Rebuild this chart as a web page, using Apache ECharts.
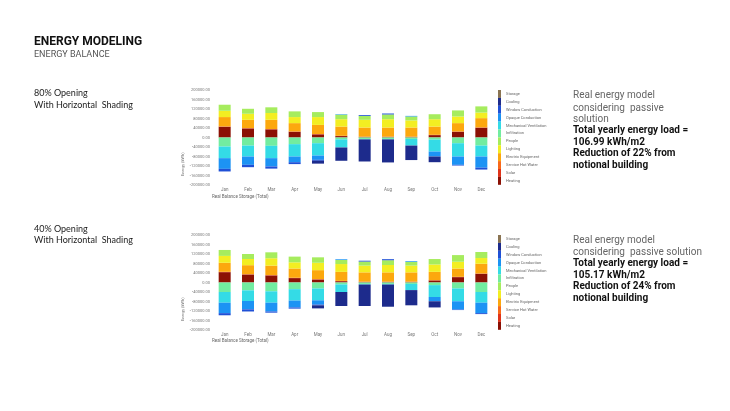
<!DOCTYPE html>
<html>
<head>
<meta charset="utf-8">
<script src="https://cdn.jsdelivr.net/npm/echarts@6/dist/echarts.min.js"></script>
<style>
  html, body { margin: 0; padding: 0; background: #fff; }
  #main { width: 730px; height: 411px; }
</style>
</head>
<body>
<div id="main"></div>
<script>
// months on the x axis
const months = ['Jan', 'Feb', 'Mar', 'Apr', 'May', 'Jun', 'Jul', 'Aug', 'Sep', 'Oct', 'Nov', 'Dec'];

// stacking order (bottom up on each side of zero)
const seriesNames = ['Heating', 'Solar', 'Service Hot Water', 'Electric Equipment', 'Lighting', 'People',
  'Infiltration', 'Mechanical Ventilation', 'Opaque Conduction', 'Window Conduction', 'Cooling', 'Storage'];
// colour bar order (top down)
const legendNames = ['Storage', 'Cooling', 'Window Conduction', 'Opaque Conduction', 'Mechanical Ventilation',
  'Infiltration', 'People', 'Lighting', 'Electric Equipment', 'Service Hot Water', 'Solar', 'Heating'];

// ---- 80% opening (kWh) ----
const heatingA = [45000, 38000, 34000, 24000, 13000, 6000, 2500, 2500, 2500, 10000, 24000, 41000];
const solarA = [1500, 1400, 1600, 1500, 1500, 1200, 1200, 1200, 1200, 1300, 1400, 1500];
const hotWaterA = [0, 0, 0, 0, 0, 0, 0, 0, 0, 0, 0, 0];
const equipmentA = [39500, 35000, 39000, 35000, 38500, 38800, 38300, 38300, 38300, 34700, 35100, 39000];
const lightingA = [26500, 25500, 28500, 25500, 33000, 31000, 32500, 35000, 30000, 31000, 28000, 23500];
const peopleA = [25500, 21000, 24000, 24000, 21000, 19000, 16500, 20000, 16500, 21000, 25500, 26000];
const infiltrationA = [-38000, -34000, -35000, -28000, -24000, -8000, -6000, -6000, -6000, -9000, -24000, -34000];
const ventilationA = [-49000, -46000, -52000, -52000, -52000, -34000, -2000, -2000, -28000, -50000, -56000, -46000];
const opaqueA = [-45000, -35000, -35000, -24000, -18000, 2000, 0, 0, 2500, -21000, -35000, -47000];
const windowA = [-11000, -10000, -9000, -8000, -4000, 0, 3500, 4000, 0, 0, -3000, -8000];
const coolingA = [0, 0, 0, 0, -12000, -56000, -93000, -97000, -61000, -24000, 0, 0];
const storageA = [0, 0, 0, 0, 0, 0, 0, 0, 0, 0, 0, 0];

// ---- 40% opening (kWh) ----
const heatingB = [43500, 33500, 29500, 18500, 12500, 5500, 2500, 2500, 2500, 8500, 22500, 36500];
const solarB = [1500, 1400, 1600, 1500, 1500, 1200, 1200, 1200, 1200, 1300, 1400, 1500];
const hotWaterB = [0, 0, 0, 0, 0, 0, 0, 0, 0, 0, 0, 0];
const equipmentB = [38000, 38000, 40000, 39000, 38000, 38000, 39000, 39000, 39000, 35000, 35000, 41000];
const lightingB = [29000, 26000, 31000, 26000, 31000, 33000, 28500, 31000, 28500, 31000, 28500, 24000];
const peopleB = [25000, 21000, 25000, 24000, 23000, 17000, 17000, 20000, 15500, 23000, 28000, 25500];
const infiltrationB = [-40000, -33000, -37000, -28000, -25000, -8000, -6000, -6000, -6000, -11000, -25000, -40000];
const ventilationB = [-45000, -45000, -48000, -48000, -50000, -32000, -2500, -2500, -26000, -50000, -54000, -45000];
const opaqueB = [-44000, -35000, -37000, -29000, -18000, 3000, 0, 0, 3000, -18000, -35000, -44000];
const windowB = [-9000, -9000, -5000, -5000, -3000, 0, 3500, 4500, 0, 0, -2000, -4000];
const coolingB = [0, 0, 0, 0, -13000, -59000, -90500, -93500, -64000, -26000, 0, 0];
const storageB = [0, 0, 0, 0, 0, 0, 0, 0, 0, 0, 0, 0];

const dataA = [heatingA, solarA, hotWaterA, equipmentA, lightingA, peopleA,
  infiltrationA, ventilationA, opaqueA, windowA, coolingA, storageA];
const dataB = [heatingB, solarB, hotWaterB, equipmentB, lightingB, peopleB,
  infiltrationB, ventilationB, opaqueB, windowB, coolingB, storageB];

const colors = {
  'Heating': '#8b1004', 'Solar': '#e0341a', 'Service Hot Water': '#f8691a', 'Electric Equipment': '#fca80e',
  'Lighting': '#f3ee22', 'People': '#a6ec5e', 'Infiltration': '#72eca0', 'Mechanical Ventilation': '#34dbe6',
  'Opaque Conduction': '#1c93f4', 'Window Conduction': '#1f50d6', 'Cooling': '#1d2b8c', 'Storage': '#8a7452'
};

const makeSeries = (dataList, idx) => seriesNames.map((name, i) => ({
  type: 'bar',
  name: name,
  stack: 'balance' + idx,
  xAxisIndex: idx,
  yAxisIndex: idx,
  barWidth: 12,
  itemStyle: { color: colors[name] },
  data: dataList[i]
}));

const grids = [
  { left: 213, top: 90, width: 280, height: 95 },
  { left: 213, top: 235, width: 280, height: 95 }
];

const xAxis = grids.map((g, i) => ({
  type: 'category',
  gridIndex: i,
  data: months,
  axisLine: { show: false },
  axisTick: { show: false },
  axisLabel: { fontSize: 4.5, color: '#777', margin: 2, fontFamily: 'Roboto' }
}));

const yAxis = grids.map((g, i) => ({
  type: 'value',
  gridIndex: i,
  min: -200000,
  max: 200000,
  interval: 40000,
  splitLine: { show: false },
  axisLabel: {
    fontSize: 4, color: '#777', margin: 3, fontFamily: 'Roboto',
    formatter: v => v.toFixed(2)
  }
}));

const legend = grids.map((g, i) => ({
  data: legendNames,
  orient: 'vertical',
  left: 498,
  top: g.top,
  padding: 0,
  itemGap: 0,
  itemWidth: 3,
  itemHeight: 7.9,
  icon: 'rect',
  selectedMode: false,
  textStyle: { fontSize: 4, color: '#666', fontFamily: 'Roboto', padding: 0 }
}));

// slide text
const txt = (x, y, text, size, color, weight, family) => ({
  type: 'text', x: x, y: y, silent: true,
  style: {
    text: text, fill: color, verticalAlign: 'middle', align: 'left',
    font: (weight || 'normal') + ' ' + size + 'px ' + (family || 'Roboto')
  }
});

const graphic = [
  txt(34, 42, 'ENERGY MODELING', 12, '#111', 'bold'),
  txt(34, 54.5, 'ENERGY BALANCE', 9, '#555'),
  txt(34, 93.5, '80% Opening', 9, '#222', 'normal', 'Lato'),
  txt(34, 105.5, 'With Horizontal  Shading', 9, '#222', 'normal', 'Lato'),
  txt(34, 229, '40% Opening', 9, '#222', 'normal', 'Lato'),
  txt(34, 240, 'With Horizontal  Shading', 9, '#222', 'normal', 'Lato'),

  txt(573, 95.7, 'Real energy model', 10, '#666'),
  txt(573, 108, 'considering  passive', 10, '#666'),
  txt(573, 119.5, 'solution', 10, '#666'),
  txt(573, 130.5, 'Total yearly energy load =', 10, '#111', 'bold'),
  txt(573, 142, '106.99 kWh/m2', 10, '#111', 'bold'),
  txt(573, 153.5, 'Reduction of 22% from', 10, '#111', 'bold'),
  txt(573, 165.5, 'notional building', 10, '#111', 'bold'),

  txt(573, 240, 'Real energy model', 10, '#666'),
  txt(573, 252.3, 'considering  passive solution', 10, '#666'),
  txt(573, 263.5, 'Total yearly energy load =', 10, '#111', 'bold'),
  txt(573, 275, '105.17 kWh/m2', 10, '#111', 'bold'),
  txt(573, 286.5, 'Reduction of 24% from', 10, '#111', 'bold'),
  txt(573, 298, 'notional building', 10, '#111', 'bold'),

  txt(212, 196.5, 'Real Balance Storage (Total)', 4.5, '#666'),
  txt(212, 341, 'Real Balance Storage (Total)', 4.5, '#666'),
  { type: 'text', x: 183, y: 176, rotation: Math.PI / 2, silent: true,
    style: { text: 'Energy (kWh)', fill: '#777', font: '4px Roboto', verticalAlign: 'middle', align: 'left' } },
  { type: 'text', x: 183, y: 321, rotation: Math.PI / 2, silent: true,
    style: { text: 'Energy (kWh)', fill: '#777', font: '4px Roboto', verticalAlign: 'middle', align: 'left' } }
];

const myChart = echarts.init(document.getElementById('main'));
myChart.setOption({
  animation: false,
  backgroundColor: '#fff',
  grid: grids,
  xAxis: xAxis,
  yAxis: yAxis,
  legend: legend,
  graphic: graphic,
  series: makeSeries(dataA, 0).concat(makeSeries(dataB, 1))
});
</script>
</body>
</html>
